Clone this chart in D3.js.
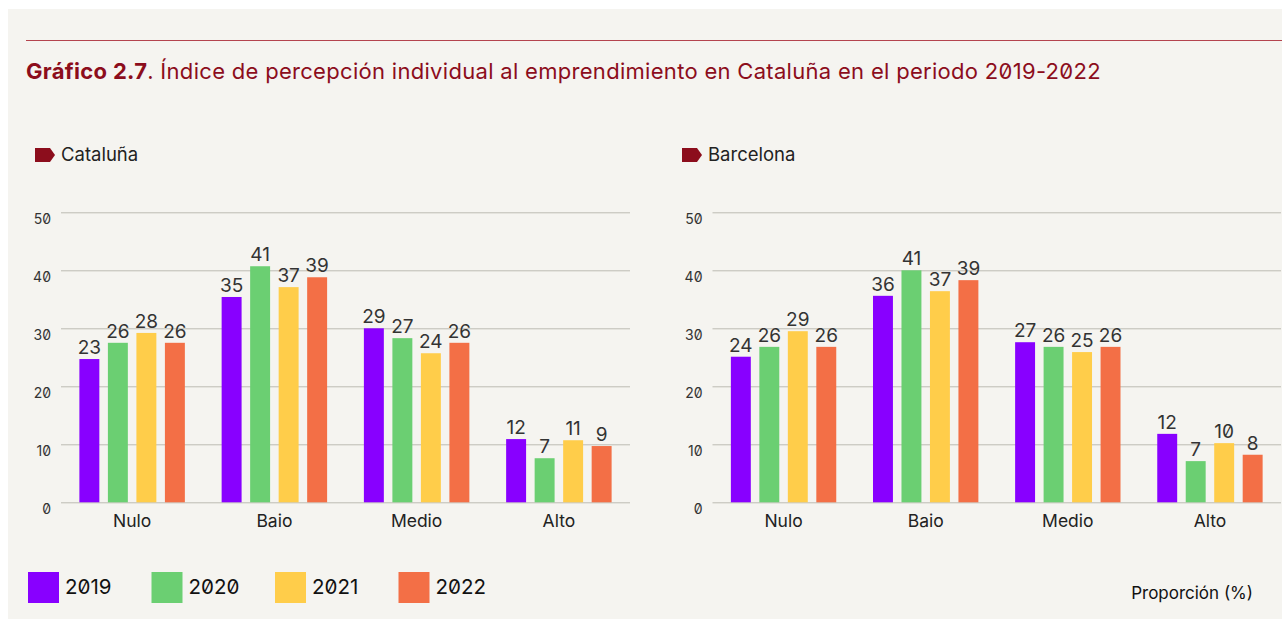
<!DOCTYPE html>
<html>
<head>
<meta charset="utf-8">
<script src="https://cdn.jsdelivr.net/npm/d3@7"></script>
<style>
  body { margin: 0; background: #fff; }
  svg { font-family: Inter, "Noto Sans", sans-serif; font-feature-settings: "zero" 1; }
</style>
</head>
<body>
<div id="chart"></div>
<script>
// data
var categories = ["Nulo", "Baio", "Medio", "Alto"];
var years = ["2019", "2020", "2021", "2022"];
var colors = ["#8800ff", "#6bcf72", "#ffcd4a", "#f36f46"];
var yTicks = [0, 10, 20, 30, 40, 50];

// bar heights (as drawn) and the printed labels, one row per category
var catalunaValues = [[24.7, 27.5, 29.2, 27.5], [35.4, 40.7, 37.1, 38.8], [30.0, 28.3, 25.7, 27.5], [10.9, 7.6, 10.7, 9.7]];
var catalunaLabels = [[23, 26, 28, 26], [35, 41, 37, 39], [29, 27, 24, 26], [12, 7, 11, 9]];
var barcelonaValues = [[25.1, 26.8, 29.5, 26.8], [35.6, 40.0, 36.4, 38.3], [27.6, 26.8, 25.9, 26.8], [11.8, 7.1, 10.2, 8.2]];
var barcelonaLabels = [[24, 26, 29, 26], [36, 41, 37, 39], [27, 26, 25, 26], [12, 7, 10, 8]];

var W = 1282, H = 622;
var darkRed = "#8c0d1c";

var svg = d3.select("#chart")
  .append("svg")
    .attr("width", W)
    .attr("height", H);

// background panel
svg.append("rect")
  .attr("x", 8).attr("y", 9)
  .attr("width", W - 8).attr("height", 610)
  .attr("fill", "#f5f4f0");

// top rule
svg.append("line")
  .attr("x1", 26).attr("x2", W)
  .attr("y1", 40.5).attr("y2", 40.5)
  .attr("stroke", "#b4444e")
  .attr("stroke-width", 1.2);

// title
var title = svg.append("text")
  .attr("x", 26)
  .attr("y", 79)
  .attr("fill", darkRed)
  .style("font-size", "22px")
  .style("letter-spacing", "0.3px");
title.append("tspan").style("font-weight", "bold").text("Gráfico 2.7");
title.append("tspan").text(". Índice de percepción individual al emprendimiento en Cataluña en el periodo 2019-2022");

var y = d3.scaleLinear()
  .domain([0, 50])
  .range([502.3, 212.3]);

function drawPanel(name, values, labels, left, right, markerX) {
  var g = svg.append("g");

  // panel header with marker
  g.append("path")
    .attr("d", "M" + markerX + ",148 h15 l5,7 l-5,7 h-15 Z")
    .attr("fill", darkRed);
  g.append("text")
    .attr("x", markerX + 26)
    .attr("y", 161)
    .attr("fill", "#222")
    .style("font-size", "18.5px")
    .text(name);

  var x0 = d3.scaleBand()
    .domain(categories)
    .range([left, right])
    .padding(0);

  var x1 = d3.scaleBand()
    .domain(years)
    .range([0, x0.bandwidth()])
    .paddingInner(0.3)
    .paddingOuter(0.645);

  // y axis as gridlines
  var yAxis = g.append("g")
    .attr("transform", "translate(" + left + ",0)")
    .call(d3.axisLeft(y).tickValues(yTicks).tickSize(-(right - left)).tickPadding(10));
  yAxis.select(".domain").remove();
  yAxis.selectAll(".tick line").attr("stroke", "#bdbbb3");
  yAxis.selectAll(".tick text")
    .attr("dy", "0.78em")
    .attr("fill", "#333")
    .style("font-size", "14px")
    .style("font-family", "Inter, sans-serif");

  // x axis labels
  var xAxis = g.append("g")
    .attr("transform", "translate(0," + y(0) + ")")
    .call(d3.axisBottom(x0).tickSize(0).tickPadding(12));
  xAxis.select(".domain").remove();
  xAxis.selectAll(".tick text")
    .attr("fill", "#222")
    .style("font-size", "17.5px")
    .style("font-family", "Inter, sans-serif");

  var groups = g.selectAll(".grp")
    .data(categories)
    .enter()
    .append("g")
    .attr("class", "grp")
    .attr("transform", function(d) { return "translate(" + x0(d) + ",0)"; });

  groups.selectAll("rect")
    .data(function(d, i) { return years.map(function(yr, j) { return {year: yr, j: j, v: values[i][j], lab: labels[i][j]}; }); })
    .enter()
    .append("rect")
    .attr("x", function(d) { return x1(d.year); })
    .attr("width", x1.bandwidth())
    .attr("y", function(d) { return y(d.v); })
    .attr("height", function(d) { return y(0) - y(d.v); })
    .attr("fill", function(d) { return colors[d.j]; });

  groups.selectAll(".val")
    .data(function(d, i) { return years.map(function(yr, j) { return {year: yr, j: j, v: values[i][j], lab: labels[i][j]}; }); })
    .enter()
    .append("text")
    .attr("class", "val")
    .attr("x", function(d) { return x1(d.year) + x1.bandwidth() / 2; })
    .attr("y", function(d) { return y(d.v) - 5; })
    .attr("text-anchor", "middle")
    .attr("fill", "#333")
    .style("font-size", "19px")
    .text(function(d) { return d.lab; });
}

drawPanel("Cataluña", catalunaValues, catalunaLabels, 61, 630, 35);
drawPanel("Barcelona", barcelonaValues, barcelonaLabels, 712.5, 1281, 682);

// legend
var legend = svg.selectAll(".leg")
  .data(years)
  .enter()
  .append("g")
  .attr("class", "leg")
  .attr("transform", function(d, i) { return "translate(" + (28 + i * 123.5) + ",572)"; });
legend.append("rect")
  .attr("width", 31)
  .attr("height", 31)
  .attr("fill", function(d, i) { return colors[i]; });
legend.append("text")
  .attr("x", 37)
  .attr("y", 22)
  .attr("fill", "#111")
  .style("font-size", "20.5px")
  .text(function(d) { return d; });

// unit note
svg.append("text")
  .attr("x", 1253)
  .attr("y", 599)
  .attr("text-anchor", "end")
  .attr("fill", "#111")
  .style("font-size", "17px")
  .text("Proporción (%)");
</script>
</body>
</html>
